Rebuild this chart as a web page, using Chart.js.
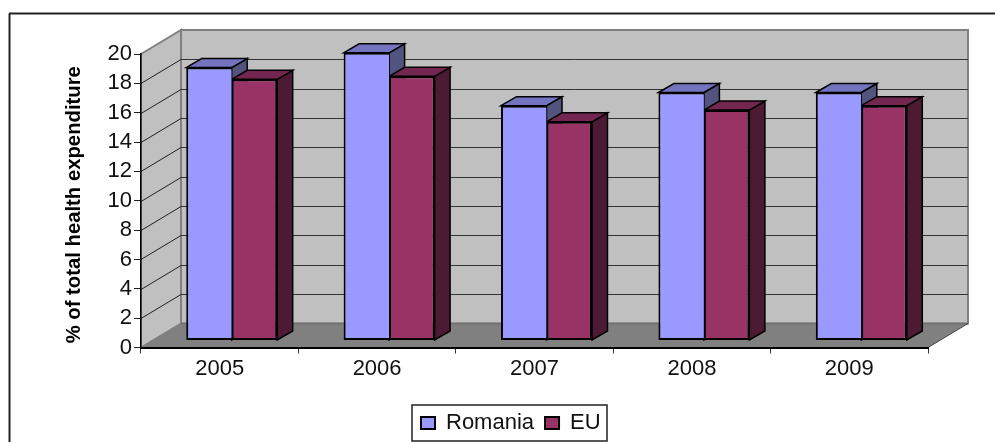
<!DOCTYPE html>
<html>
<head>
<meta charset="utf-8">
<style>html,body{margin:0;padding:0;background:#fff}canvas{display:block}</style>
<script src="https://cdn.jsdelivr.net/npm/chart.js@4"></script>
</head>
<body>
<canvas id="c" width="995" height="442"></canvas>
<script>
const categories = ['2005','2006','2007','2008','2009'];
const romania = [18.6,19.6,16.0,16.9,16.9];
const eu = [17.8,18.0,14.9,15.7,16.0];
const yTitle = '% of total health expenditure';
const FONT = '"Liberation Sans", Arial, sans-serif';

const WALL = {dx:40, dy:24};
const BAR = {dx:12, dy:7, depthX:15.5, depthY:9};
const LEGEND_BOX = {l:412, t:405, r:607, b:441};
const faces = [
  {top:'#7373bf', side:'#53537f'},
  {top:'#732650', side:'#4d1a33'}
];

function poly(ctx, pts, fill, stroke, lw){
  ctx.beginPath();
  pts.forEach((p,i)=> i ? ctx.lineTo(p[0],p[1]) : ctx.moveTo(p[0],p[1]));
  ctx.closePath();
  if(fill){ctx.fillStyle=fill;ctx.fill();}
  if(stroke){ctx.strokeStyle=stroke;ctx.lineWidth=lw;ctx.lineJoin='miter';ctx.stroke();}
}
function seg(ctx,x1,y1,x2,y2,c,w){
  ctx.beginPath();ctx.moveTo(x1,y1);ctx.lineTo(x2,y2);ctx.strokeStyle=c;ctx.lineWidth=w;ctx.stroke();
}

const box3d = {
  id:'box3d',
  afterLayout(chart){
    const lg = chart.legend;
    lg.left = LEGEND_BOX.l - 2; lg.right = 760; lg.top = 401;
    const y = chart.scales.y;
    if(!y._shifted){
      const orig = y.drawTitle;
      y.drawTitle = function(){ const c=this.ctx; c.save(); c.translate(0,4); orig.apply(this,arguments); c.restore(); };
      y._shifted = true;
    }
  },
  beforeDraw(chart){
    const {ctx, chartArea:a, scales:{y}} = chart;
    const {dx,dy} = WALL;
    ctx.save();
    // outer frame
    seg(ctx,9.5,442,9.5,13.5,'#222',2);
    seg(ctx,9,13.5,995,13.5,'#222',2);
    // walls and floor
    poly(ctx,[[a.left+dx,a.top-dy],[a.right+dx,a.top-dy],[a.right+dx,a.bottom-dy],[a.left+dx,a.bottom-dy]],'#c0c0c0','#808080',2);
    poly(ctx,[[a.left,a.top],[a.left+dx,a.top-dy],[a.left+dx,a.bottom-dy],[a.left,a.bottom]],'#c0c0c0','#808080',2);
    poly(ctx,[[a.left,a.bottom],[a.right,a.bottom],[a.right+dx,a.bottom-dy],[a.left+dx,a.bottom-dy]],'#808080');
    seg(ctx,a.left+dx,a.bottom-dy,a.right+dx,a.bottom-dy,'#6e6e6e',1.5);
    seg(ctx,a.right,a.bottom,a.right+dx,a.bottom-dy,'#444',1);
    // grid on walls
    y.ticks.forEach(t=>{
      if(t.value===y.min||t.value===y.max) return;
      const p = Math.round(y.getPixelForValue(t.value))+0.5;
      seg(ctx,a.left,p,a.left+dx,p-dy,'#222',1);
      seg(ctx,a.left+dx,p-dy,a.right+dx,p-dy,'#333',1);
    });
    // legend frame
    poly(ctx,[[LEGEND_BOX.l,LEGEND_BOX.t],[LEGEND_BOX.r,LEGEND_BOX.t],[LEGEND_BOX.r,LEGEND_BOX.b],[LEGEND_BOX.l,LEGEND_BOX.b]],'#fff','#222',1.5);
    ctx.restore();
  },
  beforeDatasetsDraw(chart){
    const ctx = chart.ctx;
    ctx.save();
    ctx.translate(BAR.dx,-BAR.dy);
    chart.data.datasets.forEach((ds,i)=>{
      chart.getDatasetMeta(i).data.forEach(el=>{
        const {x,y,base,width} = el.getProps(['x','y','base','width'],true);
        const l=x-width/2, r=x+width/2, ex=BAR.depthX, ey=BAR.depthY;
        poly(ctx,[[r,y],[r+ex,y-ey],[r+ex,base-ey],[r,base]],faces[i].side,'#000',1.5);
        poly(ctx,[[l,y],[l+ex,y-ey],[r+ex,y-ey],[r,y]],faces[i].top,'#000',1.5);
      });
    });
  },
  afterDatasetsDraw(chart){ chart.ctx.restore(); }
};

new Chart(document.getElementById('c'),{
  type:'bar',
  data:{
    labels:categories,
    datasets:[
      {label:'Romania',data:romania,backgroundColor:'#9999ff',borderColor:'#000',borderWidth:2,borderSkipped:'right',clip:false},
      {label:'EU',data:eu,backgroundColor:'#993366',borderColor:'#000',borderWidth:2,borderSkipped:false,clip:false}
    ]
  },
  plugins:[box3d],
  options:{
    responsive:false,
    animation:false,
    devicePixelRatio:1,
    categoryPercentage:0.578,
    barPercentage:1,
    layout:{padding:{left:0,right:67,top:54,bottom:0}},
    plugins:{
      title:{display:false},
      tooltip:{enabled:false},
      legend:{
        display:true,position:'bottom',align:'start',
        labels:{color:'#111',font:{family:FONT,size:22},boxWidth:14,boxHeight:12,padding:11}
      }
    },
    scales:{
      x:{
        afterFit(s){ s.height = 51.5; },
        border:{display:true,color:'#000',width:2},
        grid:{display:true,drawOnChartArea:false,drawTicks:true,tickLength:6,color:'#333'},
        ticks:{color:'#111',font:{family:FONT,size:22},padding:2,maxRotation:0}
      },
      y:{
        min:0,max:20,
        afterFit(s){ s.width = 141; },
        border:{display:true,color:'#000',width:1.5},
        grid:{display:true,drawOnChartArea:false,drawTicks:true,tickLength:7,color:'#222'},
        ticks:{stepSize:2,autoSkip:false,color:'#111',font:{family:FONT,size:22},padding:2},
        title:{display:true,text:yTitle,color:'#000',font:{family:FONT,size:20.3,weight:'bold'},padding:{top:62,bottom:0}}
      }
    }
  }
});
</script>
</body>
</html>
